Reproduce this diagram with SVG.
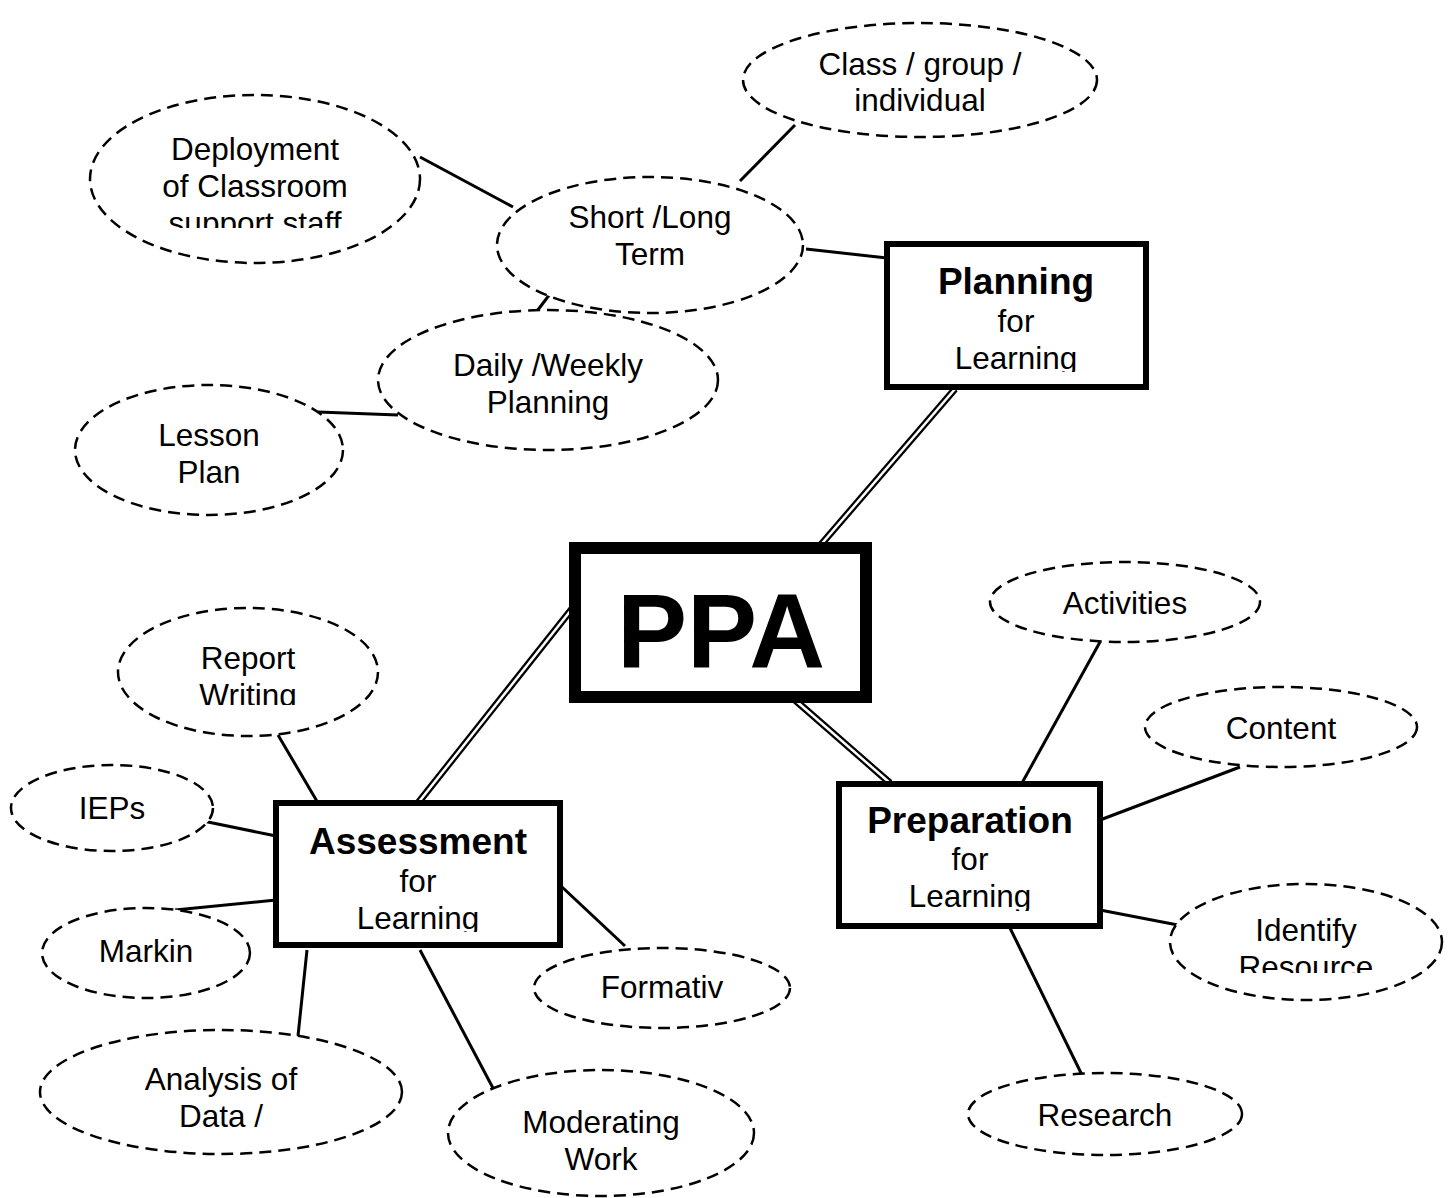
<svg xmlns="http://www.w3.org/2000/svg" width="1456" height="1198" viewBox="0 0 1456 1198">
<style>
.e{fill:#fff;stroke:#000;stroke-width:2.5;stroke-dasharray:12 7}
.b{fill:#fff;stroke:#000;stroke-width:6}
.t{font-family:"Liberation Sans",Arial,sans-serif;font-size:31.5px;text-anchor:middle;fill:#000}
.h{font-family:"Liberation Sans",Arial,sans-serif;font-size:37px;font-weight:bold;text-anchor:middle;fill:#000}
.l{stroke:#000;stroke-width:3;fill:none}
.d1{stroke:#000;stroke-width:7;fill:none}
.d2{stroke:#fff;stroke-width:2.5;fill:none}
</style>
<defs>
<clipPath id="cDep"><rect x="90" y="95" width="330" height="133"/></clipPath>
<clipPath id="cRep"><rect x="118" y="607" width="260" height="98"/></clipPath>
<clipPath id="cIde"><rect x="1170" y="884" width="272" height="89"/></clipPath>
<clipPath id="cPl"><rect x="887" y="244" width="259" height="128"/></clipPath>
<clipPath id="cAs"><rect x="276" y="803" width="284" height="129"/></clipPath>
<clipPath id="cPr"><rect x="839" y="784" width="261" height="127"/></clipPath>
</defs>
<rect width="1456" height="1198" fill="#fff"/>
<g id="connectors">
<line class="l" x1="795" y1="125" x2="740" y2="181"/>
<line class="l" x1="420" y1="157" x2="513" y2="207"/>
<line class="l" x1="806" y1="249" x2="887" y2="258"/>
<line class="l" x1="550" y1="294" x2="534" y2="315"/>
<line class="l" x1="318" y1="412" x2="398" y2="415"/>
<line class="d1" x1="955" y1="389" x2="818" y2="548"/>
<line class="d2" x1="955" y1="389" x2="818" y2="548"/>
<line class="d1" x1="575" y1="605" x2="418" y2="803"/>
<line class="d2" x1="575" y1="605" x2="418" y2="803"/>
<line class="d1" x1="795" y1="700" x2="890" y2="783"/>
<line class="d2" x1="795" y1="700" x2="890" y2="783"/>
<line class="l" x1="278" y1="735" x2="318" y2="803"/>
<line class="l" x1="203" y1="821" x2="276" y2="836"/>
<line class="l" x1="175" y1="910" x2="276" y2="900"/>
<line class="l" x1="307" y1="950" x2="298" y2="1036"/>
<line class="l" x1="420" y1="950" x2="494" y2="1090"/>
<line class="l" x1="562" y1="887" x2="625" y2="946"/>
<line class="l" x1="1100" y1="642" x2="1022" y2="783"/>
<line class="l" x1="1240" y1="767" x2="1100" y2="820"/>
<line class="l" x1="1100" y1="910" x2="1183" y2="926"/>
<line class="l" x1="1010" y1="928" x2="1082" y2="1075"/>
</g>
<g id="class"><ellipse class="e" cx="920" cy="80" rx="177" ry="57"/><text class="t" x="920" y="75">Class / group /</text><text class="t" x="920" y="111">individual</text></g>
<g id="deployment"><ellipse class="e" cx="255" cy="179" rx="165" ry="84"/><g clip-path="url(#cDep)"><text class="t" x="255" y="160">Deployment</text><text class="t" x="255" y="197">of Classroom</text><text class="t" x="255" y="234">support staff</text></g></g>
<g id="shortlong"><ellipse class="e" cx="650" cy="245" rx="153" ry="68"/><text class="t" x="650" y="228">Short /Long</text><text class="t" x="650" y="265">Term</text></g>
<g id="daily"><ellipse class="e" cx="548" cy="380" rx="170" ry="70"/><text class="t" x="548" y="376">Daily /Weekly</text><text class="t" x="548" y="413">Planning</text></g>
<g id="lesson"><ellipse class="e" cx="209" cy="450" rx="134" ry="65"/><text class="t" x="209" y="446">Lesson</text><text class="t" x="209" y="483">Plan</text></g>
<g id="report"><ellipse class="e" cx="248" cy="672" rx="130" ry="64"/><g clip-path="url(#cRep)"><text class="t" x="248" y="669">Report</text><text class="t" x="248" y="706">Writing</text></g></g>
<g id="ieps"><ellipse class="e" cx="112" cy="808" rx="101" ry="43"/><text class="t" x="112" y="819">IEPs</text></g>
<g id="markin"><ellipse class="e" cx="146" cy="953" rx="104" ry="45"/><text class="t" x="146" y="962">Markin</text></g>
<g id="analysis"><ellipse class="e" cx="221" cy="1092" rx="181" ry="62"/><text class="t" x="221" y="1090">Analysis of</text><text class="t" x="221" y="1127">Data /</text></g>
<g id="moderating"><ellipse class="e" cx="601" cy="1133" rx="153" ry="63"/><text class="t" x="601" y="1133">Moderating</text><text class="t" x="601" y="1170">Work</text></g>
<g id="formativ"><ellipse class="e" cx="662" cy="988" rx="128" ry="40"/><text class="t" x="662" y="998">Formativ</text></g>
<g id="activities"><ellipse class="e" cx="1125" cy="602" rx="135" ry="40"/><text class="t" x="1125" y="614">Activities</text></g>
<g id="content"><ellipse class="e" cx="1281" cy="727" rx="136" ry="40"/><text class="t" x="1281" y="739">Content</text></g>
<g id="identify"><ellipse class="e" cx="1306" cy="942" rx="136" ry="58"/><g clip-path="url(#cIde)"><text class="t" x="1306" y="941">Identify</text><text class="t" x="1306" y="978">Resource</text></g></g>
<g id="research"><ellipse class="e" cx="1105" cy="1114" rx="137" ry="41"/><text class="t" x="1105" y="1126">Research</text></g>
<g id="planning"><rect class="b" x="887" y="244" width="259" height="143"/><g clip-path="url(#cPl)"><text class="h" x="1016" y="294">Planning</text><text class="t" x="1016" y="332">for</text><text class="t" x="1016" y="369">Learning</text></g></g>
<g id="ppa"><rect x="575" y="548" width="291" height="149" fill="#fff" stroke="#000" stroke-width="12"/><text x="721" y="668" style="font-family:'Liberation Sans',Arial,sans-serif;font-size:105px;font-weight:bold;text-anchor:middle">PPA</text></g>
<g id="assessment"><rect class="b" x="276" y="803" width="284" height="142"/><g clip-path="url(#cAs)"><text class="h" x="418" y="854">Assessment</text><text class="t" x="418" y="892">for</text><text class="t" x="418" y="929">Learning</text></g></g>
<g id="preparation"><rect class="b" x="839" y="784" width="261" height="142"/><g clip-path="url(#cPr)"><text class="h" x="970" y="833">Preparation</text><text class="t" x="970" y="870">for</text><text class="t" x="970" y="907">Learning</text></g></g>
</svg>
